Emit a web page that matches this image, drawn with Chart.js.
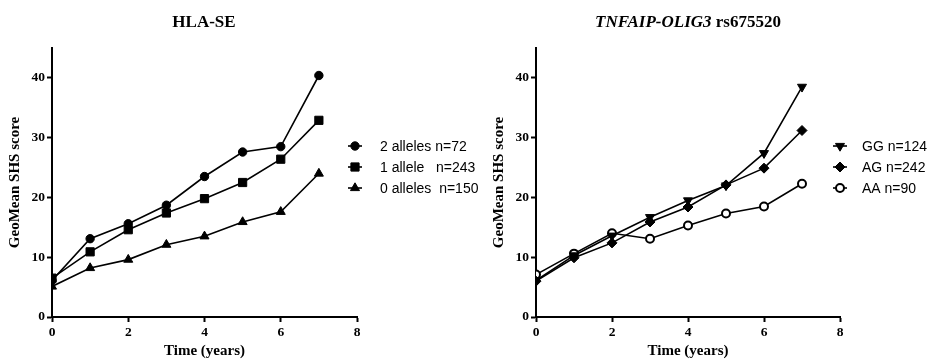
<!DOCTYPE html>
<html>
<head>
<meta charset="utf-8">
<script src="https://cdn.jsdelivr.net/npm/chart.js@4.4.1/dist/chart.umd.min.js"></script>
<style>
  html, body { margin: 0; padding: 0; background: #fff; }
  #wrap { position: relative; width: 933px; height: 360px; overflow: hidden; }
  .cv { position: absolute; top: 0; }
  .title { position: absolute; top: 12px; font: bold 17px "Liberation Serif", "Times New Roman", serif; color: #000; white-space: nowrap; transform: translateX(-50%); }
</style>
</head>
<body>
<div id="wrap">
  <div class="cv" style="left:0;width:500px;height:360px;"><canvas id="c1"></canvas></div>
  <div class="cv" style="left:466px;width:467px;height:360px;"><canvas id="c2"></canvas></div>
  <div class="title" style="left:204px;">HLA-SE</div>
  <div class="title" style="left:688px;"><i>TNFAIP-OLIG3</i> rs675520</div>
</div>
<script>
// ---- data ----
const years = [0, 1, 2, 3, 4, 5, 6, 7];
const xTicks = [0, 2, 4, 6, 8];
const yTicks = [0, 10, 20, 30, 40];

const hlaLabels = ['2 alleles n=72', '1 allele   n=243', '0 alleles  n=150'];
const hla2 = [6.1, 13.1, 15.6, 18.7, 23.5, 27.6, 28.5, 40.4];
const hla1 = [6.5, 10.9, 14.6, 17.4, 19.8, 22.5, 26.4, 32.9];
const hla0 = [5.1, 8.2, 9.6, 12.1, 13.5, 15.9, 17.6, 24.0];

const snpLabels = ['GG n=124', 'AG n=242', 'AA n=90'];
const snpGG = [6.1, 10.3, 13.6, 16.7, 19.5, 22.0, 27.4, 38.5];
const snpAG = [6.0, 9.9, 12.4, 15.9, 18.4, 22.1, 24.9, 31.2];
const snpAA = [7.1, 10.6, 14.0, 13.1, 15.3, 17.3, 18.5, 22.3];

const yTitle = 'GeoMean SHS score';
const xTitle = 'Time (years)';

// ---- helpers ----
const tickFont = { family: '"Liberation Serif", "Times New Roman", serif', size: 13.5, weight: 'bold' };
const titleFont = { family: '"Liberation Serif", "Times New Roman", serif', size: 15, weight: 'bold' };

function pts(vals) { return years.map((x, i) => ({ x: x, y: vals[i] })); }

function ds(label, vals, style) {
  return Object.assign({
    label: label,
    data: pts(vals),
    borderColor: '#000',
    backgroundColor: '#000',
    borderWidth: 1.6,
    pointBorderColor: '#000',
    pointBackgroundColor: '#000',
    pointBorderWidth: 1,
    tension: 0,
    fill: false
  }, style);
}

const legendPlugin = {
  id: 'customLegend',
  afterDraw(chart, args, opts) {
    const ctx = chart.ctx;
    ctx.save();
    chart.data.datasets.forEach((d, i) => {
      const y = opts.y0 + i * opts.dy;
      ctx.strokeStyle = '#000';
      ctx.lineWidth = 1.6;
      ctx.beginPath();
      ctx.moveTo(opts.x1, y);
      ctx.lineTo(opts.x2, y);
      ctx.stroke();
      ctx.fillStyle = d.pointBackgroundColor;
      ctx.strokeStyle = '#000';
      ctx.lineWidth = d.pointBorderWidth;
      Chart.helpers.drawPoint(ctx, {
        pointStyle: d.pointStyle,
        rotation: d.pointRotation || 0,
        radius: d.pointRadius,
        borderWidth: d.pointBorderWidth
      }, (opts.x1 + opts.x2) / 2, y);
      ctx.fillStyle = '#000';
      ctx.font = '14px "Liberation Sans", Arial, sans-serif';
      ctx.textBaseline = 'middle';
      ctx.textAlign = 'left';
      ctx.fillText(d.label, opts.tx, y + 1);
    });
    ctx.restore();
  }
};

function makeChart(id, datasets, pad, legendOpts) {
  return new Chart(document.getElementById(id), {
    type: 'line',
    data: { datasets: datasets },
    plugins: [legendPlugin],
    options: {
      responsive: true,
      maintainAspectRatio: false,
      animation: false,
      layout: { padding: { left: pad.left, right: pad.right, top: 48, bottom: 0 } },
      plugins: {
        legend: { display: false },
        tooltip: { enabled: false },
        title: { display: false },
        customLegend: legendOpts
      },
      scales: {
        x: {
          type: 'linear',
          min: 0, max: 8,
          afterBuildTicks: s => { s.ticks = xTicks.map(v => ({ value: v })); },
          afterFit: s => { s.height = 43; },
          border: { display: true, color: '#000', width: 2 },
          grid: { display: true, drawOnChartArea: false, drawTicks: true, tickLength: 5, tickWidth: 2, tickColor: '#000' },
          ticks: { color: '#000', font: tickFont, padding: 2, maxRotation: 0 },
          title: { display: true, text: xTitle, color: '#000', font: titleFont, padding: { top: 0, bottom: 0 } }
        },
        y: {
          type: 'linear',
          min: 0, max: 45,
          afterBuildTicks: s => { s.ticks = yTicks.map(v => ({ value: v })); },
          afterFit: s => { s.width = pad.yw; },
          border: { display: true, color: '#000', width: 2 },
          grid: { display: true, drawOnChartArea: false, drawTicks: true, tickLength: 5, tickWidth: 2, tickColor: '#000' },
          ticks: { color: '#000', font: tickFont, padding: 2 },
          title: { display: true, text: yTitle, color: '#000', font: titleFont, padding: { top: 0, bottom: 0 } }
        }
      }
    }
  });
}

makeChart('c1', [
  ds(hlaLabels[0], hla2, { pointStyle: 'circle', pointRadius: 4.2 }),
  ds(hlaLabels[1], hla1, { pointStyle: 'rect', pointRadius: 5.8 }),
  ds(hlaLabels[2], hla0, { pointStyle: 'triangle', pointRadius: 5.2 })
], { left: 6, right: 143, yw: 46 }, { x1: 348, x2: 362, tx: 380, y0: 146, dy: 21 });

makeChart('c2', [
  ds(snpLabels[0], snpGG, { pointStyle: 'triangle', pointRotation: 180, pointRadius: 5.2 }),
  ds(snpLabels[1], snpAG, { pointStyle: 'rectRot', pointRadius: 5 }),
  ds(snpLabels[2], snpAA, { pointStyle: 'circle', pointRadius: 4, pointBackgroundColor: '#fff', pointBorderWidth: 2 })
], { left: 24, right: 93, yw: 46 }, { x1: 367, x2: 381, tx: 396, y0: 146, dy: 21 });
</script>
</body>
</html>
